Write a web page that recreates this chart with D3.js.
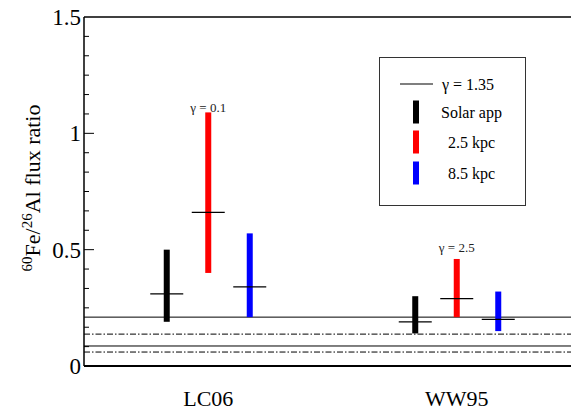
<!DOCTYPE html>
<html><head><meta charset="utf-8">
<script src="https://cdn.jsdelivr.net/npm/d3@7"></script>
</head><body style="margin:0;background:#fff"><svg id="c" width="571" height="410" style="display:block"></svg>
<script>
const categories = ["LC06", "WW95"];
const seriesNames = ["Solar app", "2.5 kpc", "8.5 kpc"];
const seriesColors = ["#000000", "#ff0000", "#0000ff"];
// [low, high, median] per category
const solarApp = [[0.19, 0.50, 0.31], [0.14, 0.30, 0.19]];
const kpc25 = [[0.40, 1.09, 0.66], [0.21, 0.46, 0.29]];
const kpc85 = [[0.21, 0.57, 0.34], [0.15, 0.32, 0.20]];
const gammaLabels = ["γ = 0.1", "γ = 2.5"];
const gammaLabelValues = [1.11, 0.51];
const solidLines = [0.21, 0.086];
const dashDotLines = [0.137, 0.06];
const yTicks = [0, 0.5, 1, 1.5];
const yTickLabels = ["0", "0.5", "1", "1.5"];

const FONT = "Liberation Serif";
const svg = d3.select("#c");
const x = d3.scaleLinear().domain([0.5, 2.5]).range([84, 581]);
const y = d3.scaleLinear().domain([0, 1.5]).range([366, 17]);
const offsets = [-0.167, 0, 0.167];
const series = [solarApp, kpc25, kpc85];

// reference lines
svg.selectAll("line.solid").data(solidLines).join("line")
  .attr("x1", x(0.5)).attr("x2", x(2.5)).attr("y1", d => y(d)).attr("y2", d => y(d))
  .attr("stroke", "#000").attr("stroke-width", 1);
svg.selectAll("line.dd").data(dashDotLines).join("line")
  .attr("x1", x(0.5)).attr("x2", x(2.5)).attr("y1", d => y(d)).attr("y2", d => y(d))
  .attr("stroke", "#000").attr("stroke-width", 1).attr("stroke-dasharray", "6,2,1.5,2");

// frame
svg.append("line").attr("x1", x(0.5)).attr("x2", x(2.5)).attr("y1", y(0)).attr("y2", y(0)).attr("stroke", "#000").attr("stroke-width", 2);
svg.append("line").attr("x1", x(0.5)).attr("x2", x(2.5)).attr("y1", y(1.5)).attr("y2", y(1.5)).attr("stroke", "#000").attr("stroke-width", 1.5);
svg.append("line").attr("x1", x(0.5)).attr("x2", x(0.5)).attr("y1", y(0)).attr("y2", y(1.5)).attr("stroke", "#000").attr("stroke-width", 1.5);

// y ticks
const minor = d3.range(0, 18).map(i => i / 12).filter(v => v <= 1.5);
svg.selectAll("line.minor").data(minor).join("line")
  .attr("x1", x(0.5)).attr("x2", d => x(0.5) + (yTicks.some(t => Math.abs(t - d) < 1e-6) ? 10 : 5))
  .attr("y1", d => y(d)).attr("y2", d => y(d)).attr("stroke", "#000").attr("stroke-width", 1);
svg.selectAll("text.yt").data(yTicks).join("text")
  .attr("x", x(0.5) - 3).attr("y", d => y(d)).attr("dy", "0.35em")
  .attr("text-anchor", "end").attr("font-size", 23).attr("font-family", FONT).text((d, i) => yTickLabels[i]);

// y label
const yl = svg.append("text").attr("transform", "translate(40,188) rotate(-90)")
  .attr("text-anchor", "middle").attr("font-size", 22).attr("font-family", FONT);
yl.append("tspan").attr("font-size", 15).attr("dy", -8).text("60");
yl.append("tspan").attr("dy", 8).text("Fe/");
yl.append("tspan").attr("font-size", 15).attr("dy", -8).text("26");
yl.append("tspan").attr("dy", 8).text("Al flux ratio");

// category labels
svg.selectAll("text.cat").data(categories).join("text")
  .attr("x", (d, i) => x(i + 1)).attr("y", 398).attr("dy", "0.35em")
  .attr("text-anchor", "middle").attr("font-size", 22).attr("font-family", FONT).text(d => d);

// bars with median ticks
series.forEach((s, si) => {
  const g = svg.append("g");
  g.selectAll("rect").data(s).join("rect")
    .attr("x", (d, i) => x(i + 1 + offsets[si]) - 3).attr("width", 6)
    .attr("y", d => y(d[1])).attr("height", d => y(d[0]) - y(d[1]))
    .attr("fill", seriesColors[si]);
  g.selectAll("line").data(s).join("line")
    .attr("x1", (d, i) => x(i + 1 + offsets[si]) - 16.5).attr("x2", (d, i) => x(i + 1 + offsets[si]) + 16.5)
    .attr("y1", d => y(d[2])).attr("y2", d => y(d[2])).attr("stroke", "#000").attr("stroke-width", 1.2);
});

// gamma labels
svg.selectAll("text.gam").data(gammaLabels).join("text")
  .attr("x", (d, i) => x(i + 1)).attr("y", (d, i) => y(gammaLabelValues[i])).attr("dy", "0.35em")
  .attr("text-anchor", "middle").attr("font-size", 13).attr("fill", "#222").attr("font-family", FONT).text(d => d);

// legend
const lg = svg.append("g");
lg.append("rect").attr("x", 379.5).attr("y", 57.5).attr("width", 146).attr("height", 148)
  .attr("fill", "#fff").attr("stroke", "#333").attr("stroke-width", 1);
lg.append("line").attr("x1", 400).attr("x2", 433).attr("y1", 84).attr("y2", 84).attr("stroke", "#000").attr("stroke-width", 1.2);
lg.append("text").attr("x", 442).attr("y", 84).attr("dy", "0.35em").attr("font-size", 16).attr("font-family", FONT).text("γ = 1.35");
const legY = [112, 142, 173];
seriesNames.forEach((n, i) => {
  lg.append("rect").attr("x", 413).attr("width", 6).attr("y", legY[i] - 11.5).attr("height", 23).attr("fill", seriesColors[i]);
  lg.append("text").attr("x", i === 0 ? 441 : 448).attr("y", legY[i]).attr("dy", "0.35em").attr("font-size", 16).attr("font-family", FONT).text(n);
});
</script></body></html>
